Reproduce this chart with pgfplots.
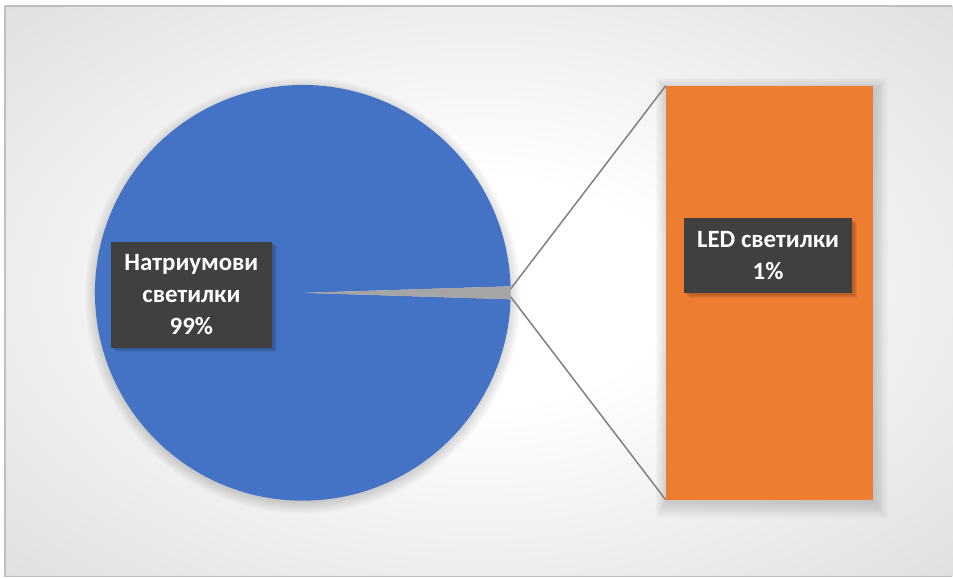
\documentclass[border=0pt]{standalone}
\usepackage{pgfplots}
\pgfplotsset{compat=1.18}
\usepackage{pgfplotstable}
\usepackage{fontspec}
\setmainfont{Carlito}
\definecolor{pieblue}{HTML}{4472C4}
\definecolor{barorange}{HTML}{ED7D31}
\definecolor{wedgegrey}{HTML}{A5A5A5}
\definecolor{linegrey}{HTML}{808080}
\definecolor{labelbg}{HTML}{404040}
\definecolor{bggrey}{HTML}{D4D4D4}
\definecolor{framegrey}{HTML}{BFBFBF}
\pgfdeclareradialshading{bgshade}{\pgfpoint{0bp}{0bp}}{color(0bp)=(white); color(10bp)=(white); color(45bp)=(bggrey); color(72bp)=(bggrey!90!black)}

\pgfplotstableread{
share
99
1
}\datatable

\begin{document}
\begin{tikzpicture}
\pgfplotstablegetelem{0}{share}\of\datatable \let\sodium\pgfplotsretval
\pgfplotstablegetelem{1}{share}\of\datatable \let\led\pgfplotsretval
\pgfmathsetmacro{\total}{\sodium+\led}
\pgfmathsetmacro{\half}{180*\led/\total}
\pgfmathsetmacro{\endang}{360-\half}
\pgfmathsetmacro{\pctA}{100*\sodium/\total}
\pgfmathsetmacro{\pctB}{100*\led/\total}
\begin{axis}[
  width=953bp, height=579bp, scale only axis,
  xmin=0, xmax=953, ymin=0, ymax=579, y dir=reverse,
  hide axis, clip=false,
]
% background
\fill[white] (axis cs:0,0) rectangle (axis cs:953,579);
\shade[shading=bgshade] (axis cs:5,6) rectangle (axis cs:953,577);
\draw[framegrey, line width=1.2bp] (axis cs:5,6) -- (axis cs:953,6);
\draw[framegrey, line width=1.2bp] (axis cs:5,577) -- (axis cs:953,577);
\draw[framegrey, line width=1.2bp] (axis cs:5,6) -- (axis cs:5,577);
% soft shadows
\pgfplotsinvokeforeach{1,...,8}{
  \fill[black, opacity=0.018] (axis cs:303,296) circle[radius={206bp+#1*1.5bp}];
  \fill[black, opacity=0.018] (axis cs:{668-#1*1.5},{90-#1*1.5}) rectangle (axis cs:{874+#1*1.8},{502+#1*2});
}
% pie
\fill[pieblue] (axis cs:303,293) -- ++(\half:208bp) arc[start angle=\half, end angle=\endang, radius=208bp] -- cycle;
\fill[wedgegrey] (axis cs:303,293) -- ++(-\half:208bp) arc[start angle=-\half, end angle=\half, radius=208bp] -- cycle;
% bar (1% broken out, full height)
\addplot[fill=barorange, draw=none] coordinates {(666,86) (874,86) (874,500) (666,500)} -- cycle;
% connector lines
\addplot[linegrey, line width=1.5bp] coordinates {(511,289) (666,86)};
\addplot[linegrey, line width=1.5bp] coordinates {(511,297) (666,500)};
% labels
\pgfplotsinvokeforeach{1,...,4}{
  \fill[black, opacity=0.06] (axis cs:{112+#1},{242+#1}) rectangle (axis cs:{273+#1},{348+#1});
  \fill[black, opacity=0.06] (axis cs:{685+#1},{219+#1}) rectangle (axis cs:{854+#1},{294+#1});
}
\node[fill=labelbg, text=white, inner sep=0pt, minimum width=161bp, minimum height=106bp, align=center,
      font=\bfseries\fontsize{25}{32}\selectfont] at (axis cs:191.5,295)
  {Натриумови\\светилки\\\pgfmathprintnumber[fixed,precision=0,assume math mode=true]{\pctA}\%};
\node[fill=labelbg, text=white, inner sep=0pt, minimum width=169bp, minimum height=75bp, align=center,
      font=\bfseries\fontsize{25}{32}\selectfont] at (axis cs:768.5,256)
  {LED светилки\\\pgfmathprintnumber[fixed,precision=0,assume math mode=true]{\pctB}\%};
\end{axis}
\end{tikzpicture}
\end{document}
